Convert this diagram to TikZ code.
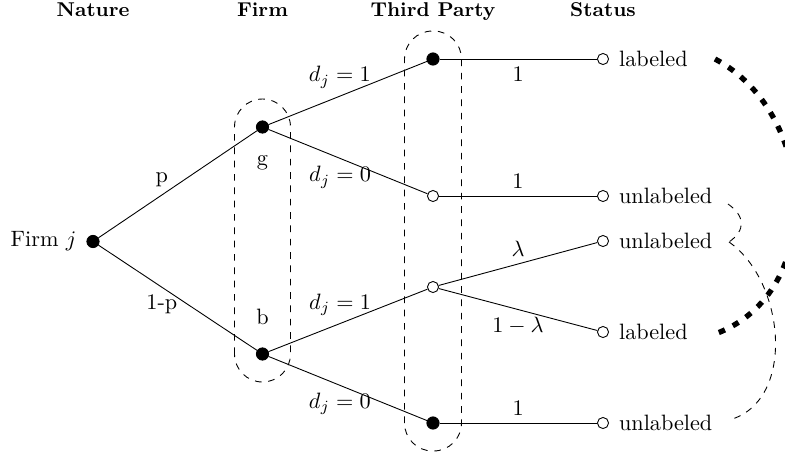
\documentclass[tikz,border=0pt]{standalone}
\usepackage{tikz}
\usetikzlibrary{positioning}

\tikzset{
	fdot/.style={circle, draw, fill=black, inner sep=0pt, minimum size=5.5pt},
	odot/.style={circle, draw, fill=white, inner sep=0pt, minimum size=5pt},
	infoset/.style={dashed, rounded corners=12.6pt},
	head/.style={font=\small\bfseries, anchor=base},
	pool/.style={line width=2.4pt, dash pattern=on 3pt off 4pt},
}

\begin{document}
\begin{tikzpicture}[x=0.45pt, y=0.45pt]
				\useasboundingbox (0,0) rectangle (785,454);
				\clip (0,0) rectangle (785,454);
				% column heads
				\node[head] (hnat)  at ( 93,438) {Nature};
				\node[head] (hfirm) at (262.5,438) {Firm};
				\node[head] (htp)   at (433,438) {Third Party};
				\node[head] (hst)   at (603,438) {Status};
				% information sets
				\draw[infoset] (234.5, 72) rectangle (290.5,355);
				\draw[infoset] (404.5,  3) rectangle (461.5,423);
				% nature and firm
				\node[fdot] (root) at ( 93,212.5) {};
				\node[left=1pt of root] (rootlab) {Firm $j$};
				\node[fdot] (g) at (262.5,327) {};
				\node[fdot] (b) at (262.5,100) {};
				\node[below=6.5pt of g] (glab) {g};
				\node[above=6.5pt of b] (blab) {b};
				% third party
				\node[fdot] (t1) at (433,395) {};
				\node[odot] (t2) at (433,258) {};
				\node[odot] (t3) at (433,167) {};
				\node[fdot] (t4) at (433, 31) {};
				% status
				\node[odot] (s1) at (603,395) {};
				\node[odot] (s2) at (603,258) {};
				\node[odot] (s3) at (603,213) {};
				\node[odot] (s4) at (603,122) {};
				\node[odot] (s5) at (603, 31) {};
				\node[right=1pt of s1] (l1) {labeled};
				\node[right=1pt of s2] (l2) {unlabeled};
				\node[right=1pt of s3] (l3) {unlabeled};
				\node[right=1pt of s4] (l4) {labeled};
				\node[right=1pt of s5] (l5) {unlabeled};
				% branches
				\draw (root) -- node[pos=.4, above] {p} (g);
				\draw (root) -- node[pos=.4, below] {1-p} (b);
				\draw (g) -- node[pos=.45, above] {$d_j=1$} (t1);
				\draw (g) -- node[pos=.45, below] {$d_j=0$} (t2);
				\draw (b) -- node[pos=.45, above] {$d_j=1$} (t3);
				\draw (b) -- node[pos=.45, below] {$d_j=0$} (t4);
				\draw (t1) -- node[below] {1} (s1);
				\draw (t2) -- node[above] {1} (s2);
				\draw (t3) -- node[above] {$\lambda$} (s3);
				\draw (t3) -- node[below] {$1-\lambda$} (s4);
				\draw (t4) -- node[above] {1} (s5);
				% pooling of outcomes
				\coordinate (lab1) at (715,395);
				\coordinate (lab2) at (715,120);
				\coordinate (unl1) at (728,250);
				\coordinate (unl2) at (729,212);
				\coordinate (unl3) at (729, 34);
				\draw[pool]   (lab1) to[out=-28, in=20, looseness=1.1] (lab2);
				\draw[dashed] (unl1) to[out=-35, in=35, looseness=1.4] (unl2);
				\draw[dashed] (unl2) to[out=-35, in=15] (unl3);
\end{tikzpicture}
\end{document}
